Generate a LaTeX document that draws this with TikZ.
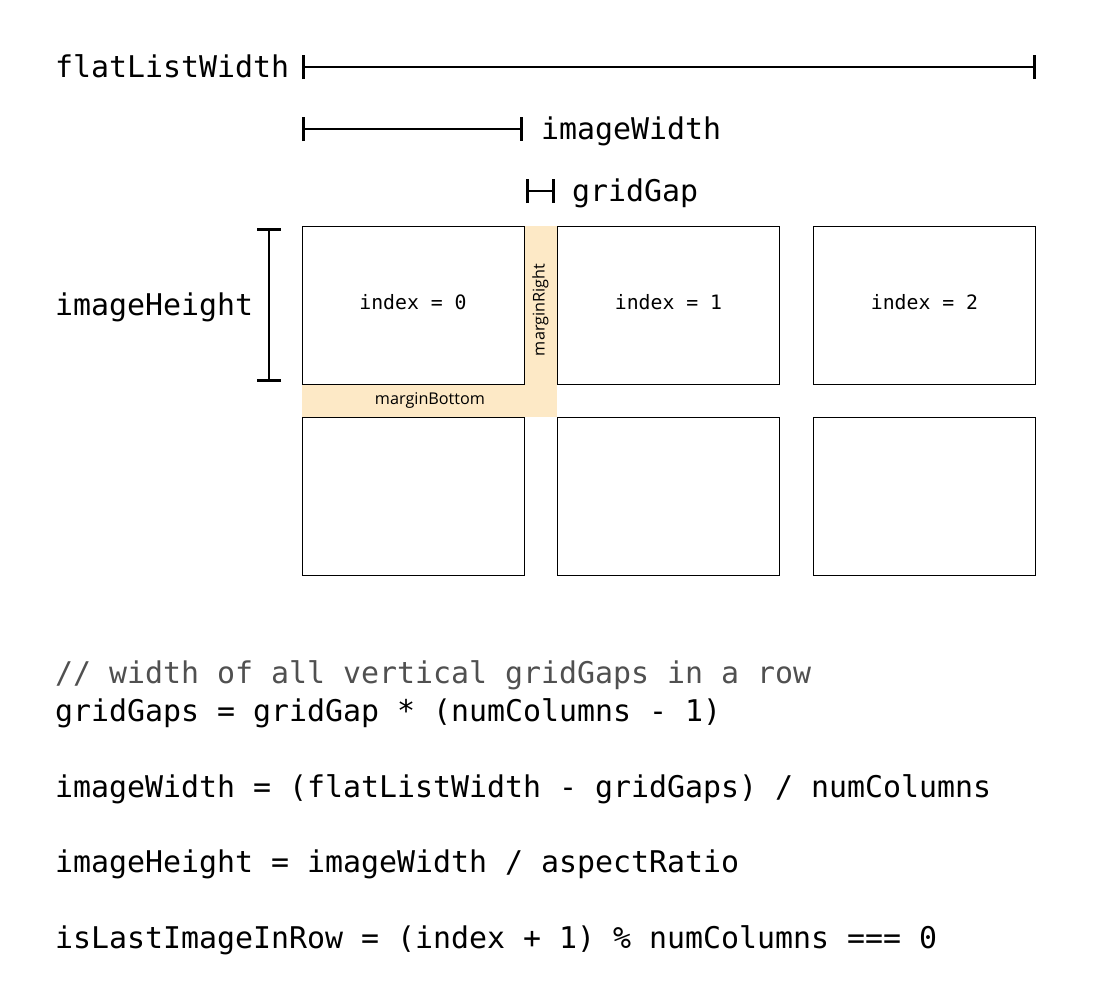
\documentclass[tikz,border=0pt]{standalone}
\usepackage{fontspec}
\setmonofont{DejaVu Sans Mono}
\setsansfont{Open Sans}
\usepackage{xcolor}
\usepackage{tikz}
\usetikzlibrary{positioning,arrows.meta}
\definecolor{margincol}{RGB}{253,233,198}
\definecolor{commentcol}{RGB}{80,80,80}

\begin{document}
\begin{tikzpicture}[x=1pt,y=-1pt,
    label/.style={anchor=base west,inner sep=0pt,font=\ttfamily\fontsize{29.9}{34}\selectfont},
    code/.style={label},
    idx/.style={font=\ttfamily\fontsize{19.8}{24}\selectfont},
    img/.style={draw,line width=1pt,minimum width=222pt,minimum height=158pt,inner sep=0pt},
    dim/.style={line width=2.2pt,{Bar[width=24pt,line width=3pt]}-{Bar[width=24pt,line width=3pt]}},
    mtext/.style={font=\sffamily\fontsize{16.2}{18}\selectfont,inner sep=0pt}]

    \useasboundingbox (0,0) rectangle (1109,1005);

    % The margins
    \fill [margincol] (524,226) rectangle (557,417);
    \fill [margincol] (302,384) rectangle (557,417);
    \node [mtext,rotate=90] at (540.5,310) (mr) {marginRight};
    \node [mtext] at (430,400) (mb) {marginBottom};

    % The images
    \foreach \c/\x in {0/413,1/668.5,2/924.5}{
        \node [img] at (\x,305) (top\c) {};
        \node [img] at (\x,496.5) (bot\c) {};
        \node [idx] at (\x,302) (i\c) {index = \c};
    }

    % Dimension labels
    \node [label] at (55,77) (fl) {flatListWidth};
    \node [label] at (541,139) (iw) {imageWidth};
    \node [label] at (572,201) (gg) {gridGap};
    \node [label] at (55,315) (ih) {imageHeight};

    \coordinate (fl1) at (302,67);
    \coordinate (fl2) at (1036,67);
    \coordinate (iw1) at (302,129);
    \coordinate (iw2) at (523,129);
    \coordinate (gg1) at (526,191);
    \coordinate (gg2) at (555,191);
    \coordinate (ih1) at (269,228);
    \coordinate (ih2) at (269,382);

    % Dimension lines
    \path[dim]
    (fl1) edge (fl2)
    (iw1) edge (iw2)
    (gg1) edge (gg2)
    (ih1) edge (ih2);

    % The code
    \node [code,text=commentcol] at (55,683) (c0) {// width of all vertical gridGaps in a row};
    \node [code] at (55,721) (c1) {gridGaps = gridGap * (numColumns - 1)};
    \node [code] at (55,797) (c2) {imageWidth = (flatListWidth - gridGaps) / numColumns};
    \node [code] at (55,872) (c3) {imageHeight = imageWidth / aspectRatio};
    \node [code] at (55,948) (c4) {isLastImageInRow = (index + 1) \% numColumns === 0};

\end{tikzpicture}
\end{document}
